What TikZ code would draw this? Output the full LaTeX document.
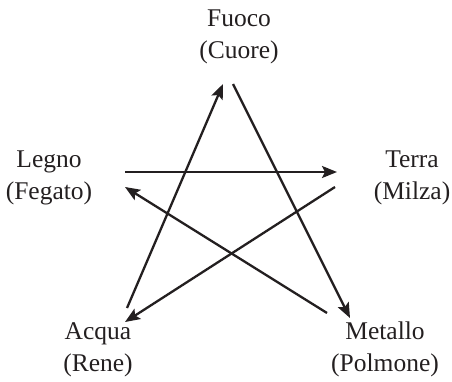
\documentclass[tikz,border=0pt]{standalone}
\usepackage{fontspec}
\setmainfont{Liberation Serif}
\usepackage{tikz}
\usetikzlibrary{arrows.meta, positioning}
\definecolor{inchiostro}{HTML}{231F20}

\begin{document}
\begin{tikzpicture}[
        x=1pt, y=1pt,
        elemento/.style={align=center, inner sep=0pt, text=inchiostro, font=\fontsize{25.5}{32}\selectfont},
        ciclo/.style={-{Stealth[length=15pt, width=12pt, inset=3pt]}, draw=inchiostro, line width=2.3pt},
    ]
        \useasboundingbox (0,0) rectangle (452,381);

        \node[elemento] (fuoco) at (239,344) {Fuoco\\(Cuore)};
        \node[elemento] (legno) at (49,203) {Legno\\(Fegato)};
        \node[elemento] (terra) at (412,203) {Terra\\(Milza)};
        \node[elemento] (acqua) at (98,31) {Acqua\\(Rene)};
        \node[elemento] (metallo) at (385,32) {Metallo\\(Polmone)};

        % ciclo di generazione
        \draw[ciclo] ([shift={(76,6)}]legno.center) -- ([shift={(-75,6)}]terra.center);
        \draw[ciclo] ([shift={(-77,-9)}]terra.center) -- ([shift={(27,28)}]acqua.center);
        \draw[ciclo] ([shift={(29,42)}]acqua.center) -- ([shift={(-16,-47)}]fuoco.center);
        \draw[ciclo] ([shift={(-6,-47)}]fuoco.center) -- ([shift={(-35,31)}]metallo.center);
        \draw[ciclo] ([shift={(-58,36)}]metallo.center) -- ([shift={(76,-9)}]legno.center);
    \end{tikzpicture}
\end{document}
